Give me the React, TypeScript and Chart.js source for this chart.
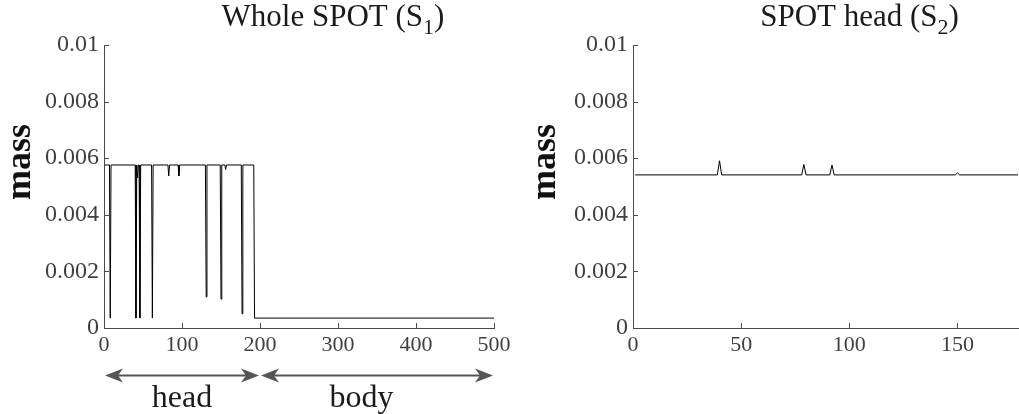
import React, { useEffect, useRef } from "react";
import { Chart, registerables } from "chart.js";

Chart.register(...registerables);

const FONT = '"Liberation Serif", "Times New Roman", Times, serif';

// ---- Left panel: Whole SPOT (S1) ----
const wholeHeadLevel = 0.00576;
const wholeBodyLevel = 0.00035;
const wholeStartX = 1;
const wholeHeadEndX = 192;
const wholeBodyStartX = 193;
const wholeEndX = 500;
const wholeDipX = [8, 41, 43, 46, 62, 83, 96, 131, 150, 156, 177];
const wholeDipY = [0.00035, 0.00035, 0.0053, 0.00035, 0.00035, 0.00537, 0.00537, 0.0011, 0.00102, 0.0056, 0.0005];

// ---- Right panel: SPOT head (S2) ----
const headBaseLevel = 0.00541;
const headStartX = 1;
const headEndX = 178;
const headSpikeX = [40, 79, 92, 150];
const headSpikeY = [0.00591, 0.00578, 0.00576, 0.00548];

// ---- Axes ----
const leftXMax = 500;
const rightXMax = 178;
const leftXTicks = [0, 100, 200, 300, 400, 500];
const rightXTicks = [0, 50, 100, 150];
const yTickValues = [0, 0.002, 0.004, 0.006, 0.008, 0.01];
const yTickLabels = ["0", "0.002", "0.004", "0.006", "0.008", "0.01"];
const yAxisTitle = "mass";

// ---- Titles ----
const leftTitle = ["Whole SPOT (S", "1", ")"];
const rightTitle = ["SPOT head (S", "2", ")"];

// ---- Region annotations under the left panel ----
const regionNames = ["head", "body"];
const regionStart = [0, 200];
const regionEnd = [200, 500];
const regionLabelX = [100, 330];

type Pt = { x: number; y: number };

function buildWhole(): Pt[] {
  const pts: Pt[] = [{ x: wholeStartX, y: wholeHeadLevel }];
  wholeDipX.forEach((dx, i) => {
    pts.push({ x: dx - 1, y: wholeHeadLevel });
    pts.push({ x: dx, y: wholeDipY[i] });
    pts.push({ x: dx + 1, y: wholeHeadLevel });
  });
  pts.push({ x: wholeHeadEndX, y: wholeHeadLevel });
  pts.push({ x: wholeBodyStartX, y: wholeBodyLevel });
  pts.push({ x: wholeEndX, y: wholeBodyLevel });
  return pts;
}

function buildHead(): Pt[] {
  const pts: Pt[] = [{ x: headStartX, y: headBaseLevel }];
  headSpikeX.forEach((sx, i) => {
    pts.push({ x: sx - 1, y: headBaseLevel });
    pts.push({ x: sx, y: headSpikeY[i] });
    pts.push({ x: sx + 1, y: headBaseLevel });
  });
  pts.push({ x: headEndX, y: headBaseLevel });
  return pts;
}

const AXIS_COLOR = "#4a4a4a";
const TICK_COLOR = "#404040";

function drawTitle(ctx: CanvasRenderingContext2D, parts: string[], cx: number, baseline: number) {
  ctx.save();
  ctx.fillStyle = "#1a1a1a";
  ctx.textAlign = "left";
  ctx.textBaseline = "alphabetic";
  ctx.font = `31px ${FONT}`;
  const w1 = ctx.measureText(parts[0]).width;
  const w3 = ctx.measureText(parts[2]).width;
  ctx.font = `22px ${FONT}`;
  const w2 = ctx.measureText(parts[1]).width;
  const x0 = cx - (w1 + w2 + w3) / 2;
  ctx.font = `31px ${FONT}`;
  ctx.fillText(parts[0], x0, baseline);
  ctx.font = `22px ${FONT}`;
  ctx.fillText(parts[1], x0 + w1, baseline + 8);
  ctx.font = `31px ${FONT}`;
  ctx.fillText(parts[2], x0 + w1 + w2, baseline);
  ctx.restore();
}

function drawArrowHead(ctx: CanvasRenderingContext2D, tipX: number, y: number, dir: number) {
  const len = 18;
  const half = 7;
  const notch = 13;
  ctx.beginPath();
  ctx.moveTo(tipX, y);
  ctx.lineTo(tipX - dir * len, y - half);
  ctx.lineTo(tipX - dir * notch, y);
  ctx.lineTo(tipX - dir * len, y + half);
  ctx.closePath();
  ctx.fill();
}

function makePlugin(opts: { title: string[]; yLabelOffset: number; regions: boolean }) {
  return {
    id: "decor",
    afterDraw(chart: any) {
      const ctx: CanvasRenderingContext2D = chart.ctx;
      const area = chart.chartArea;
      const xs = chart.scales.x;
      const ys = chart.scales.y;
      // inward tick marks
      ctx.save();
      ctx.strokeStyle = AXIS_COLOR;
      ctx.lineWidth = 1;
      ctx.beginPath();
      xs.ticks.forEach((t: any) => {
        const px = Math.round(xs.getPixelForValue(t.value)) + 0.5;
        ctx.moveTo(px, area.bottom);
        ctx.lineTo(px, area.bottom - 5);
      });
      ys.ticks.forEach((t: any) => {
        const py = Math.round(ys.getPixelForValue(t.value)) + 0.5;
        ctx.moveTo(area.left, py);
        ctx.lineTo(area.left + 5, py);
      });
      ctx.stroke();
      ctx.restore();

      // title
      const cx = (area.left + area.right) / 2 + 34;
      drawTitle(ctx, opts.title, cx, 26);

      // y label
      ctx.save();
      ctx.fillStyle = "#111";
      ctx.font = `bold 36px ${FONT}`;
      ctx.textAlign = "center";
      ctx.textBaseline = "middle";
      ctx.translate(area.left - opts.yLabelOffset, 162);
      ctx.rotate(-Math.PI / 2);
      ctx.fillText(yAxisTitle, 0, 0);
      ctx.restore();

      if (opts.regions) {
        const ay = area.bottom + 47.5;
        ctx.save();
        ctx.fillStyle = "#555";
        ctx.strokeStyle = "#555";
        ctx.lineWidth = 2;
        regionNames.forEach((_name, i) => {
          const x0 = xs.getPixelForValue(regionStart[i]) + 1;
          const x1 = xs.getPixelForValue(regionEnd[i]) - 1;
          ctx.beginPath();
          ctx.moveTo(x0 + 12, ay);
          ctx.lineTo(x1 - 12, ay);
          ctx.stroke();
          drawArrowHead(ctx, x0, ay, -1);
          drawArrowHead(ctx, x1, ay, 1);
        });
        ctx.fillStyle = "#1a1a1a";
        ctx.font = `32px ${FONT}`;
        ctx.textAlign = "center";
        ctx.textBaseline = "alphabetic";
        regionNames.forEach((name, i) => {
          ctx.fillText(name, xs.getPixelForValue(regionLabelX[i]), area.bottom + 79);
        });
        ctx.restore();
      }
    },
  };
}

function makeConfig(
  data: Pt[],
  xMax: number,
  xTicks: number[],
  yWidth: number,
  padRight: number,
  plugin: any
): any {
  return {
    type: "line",
    data: {
      datasets: [
        {
          data,
          borderColor: "#000",
          borderWidth: 1,
          pointRadius: 0,
          tension: 0,
          fill: false,
        },
      ],
    },
    options: {
      animation: false,
      responsive: false,
      devicePixelRatio: 1,
      layout: { padding: { left: 0, right: padRight, top: 45, bottom: 0 } },
      plugins: { legend: { display: false }, tooltip: { enabled: false }, title: { display: false } },
      scales: {
        x: {
          type: "linear",
          min: 0,
          max: xMax,
          afterBuildTicks: (axis: any) => {
            axis.ticks = xTicks.map((v) => ({ value: v }));
          },
          afterFit: (axis: any) => {
            axis.height = 86;
          },
          grid: { display: true, drawOnChartArea: false, drawTicks: false },
          border: { display: true, color: AXIS_COLOR, width: 1 },
          ticks: {
            padding: 4,
            color: TICK_COLOR,
            font: { family: FONT, size: 22 },
            maxRotation: 0,
            autoSkip: false,
            callback: (v: number) => String(v),
          },
        },
        y: {
          type: "linear",
          min: 0,
          max: 0.01,
          afterBuildTicks: (axis: any) => {
            axis.ticks = yTickValues.map((v) => ({ value: v }));
          },
          afterFit: (axis: any) => {
            axis.width = yWidth;
          },
          grid: { display: true, drawOnChartArea: false, drawTicks: false },
          border: { display: true, color: AXIS_COLOR, width: 1 },
          ticks: {
            padding: 5,
            color: TICK_COLOR,
            font: { family: FONT, size: 24 },
            autoSkip: false,
            callback: (_v: number, i: number) => yTickLabels[i],
          },
        },
      },
    },
    plugins: [plugin],
  };
}

export default function App() {
  const leftRef = useRef<HTMLCanvasElement | null>(null);
  const rightRef = useRef<HTMLCanvasElement | null>(null);

  useEffect(() => {
    const charts: Chart[] = [];
    if (leftRef.current) {
      charts.push(
        new Chart(
          leftRef.current,
          makeConfig(buildWhole(), leftXMax, leftXTicks, 104, 26,
            makePlugin({ title: leftTitle, yLabelOffset: 83, regions: true }))
        )
      );
    }
    if (rightRef.current) {
      charts.push(
        new Chart(
          rightRef.current,
          makeConfig(buildHead(), rightXMax, rightXTicks, 113, 1,
            makePlugin({ title: rightTitle, yLabelOffset: 87, regions: false }))
        )
      );
    }
    return () => charts.forEach((c) => c.destroy());
  }, []);

  return (
    <div style={{ position: "absolute", left: 0, top: 0, width: 1019, height: 414, background: "#fff" }}>
      <canvas ref={leftRef} width={520} height={414} style={{ position: "absolute", left: 0, top: 0, width: 520, height: 414 }} />
      <canvas ref={rightRef} width={499} height={414} style={{ position: "absolute", left: 520, top: 0, width: 499, height: 414 }} />
    </div>
  );
}
